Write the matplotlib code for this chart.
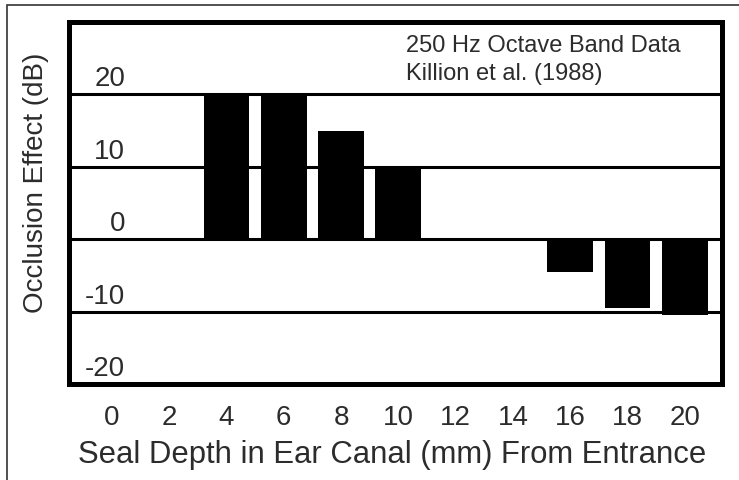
import matplotlib.pyplot as plt
from matplotlib.patches import Rectangle

# 250 Hz octave band occlusion effect vs. seal depth
depth_mm = [4, 6, 8, 10, 16, 18, 20]
occlusion_db = [20, 20, 15, 10, -4.5, -9.5, -10.5]

x_ticks = [0, 2, 4, 6, 8, 10, 12, 14, 16, 18, 20]
y_ticks = [20, 10, 0, -10, -20]
y_tick_labels = ["20", "10", "0", "-10", "-20"]

TEXT = "#2c2c2c"
W, H = 739, 480

plt.rcParams["font.family"] = ["Liberation Sans", "DejaVu Sans"]

fig = plt.figure(figsize=(W / 100, H / 100), dpi=100)
ax = fig.add_axes([69 / W, 96 / H, (722 - 69) / W, (384 - 22) / H])

ax.bar(depth_mm, occlusion_db, width=1.6, color="black", zorder=3)
ax.set_xlim(-1.5, 21.3)
ax.set_ylim(-20, 30)

# horizontal rules at every 10 dB, labels sit just above each rule
ax.set_yticks(y_ticks)
ax.yaxis.grid(True, color="black", linewidth=2.2)
ax.set_axisbelow(True)
ax.tick_params(axis="y", left=False, labelleft=False)
for val, lab in zip(y_ticks, y_tick_labels):
    ax.annotate(lab, xy=(0, val), xycoords=("axes fraction", "data"),
                xytext=(56, 8), textcoords="offset pixels",
                ha="right", va="baseline", fontsize=20, color=TEXT)

ax.set_xticks(x_ticks)
ax.tick_params(axis="x", length=0, pad=15, labelsize=20, labelcolor=TEXT)

for spine in ax.spines.values():
    spine.set_linewidth(3.6)

fig.text(392 / W, 1 - 463 / H, "Seal Depth in Ear Canal (mm) From Entrance",
         ha="center", va="baseline", fontsize=22.3, color=TEXT)
fig.text(43 / W, 1 - 183 / H, "Occlusion Effect (dB)", rotation=90,
         rotation_mode="anchor", ha="center", va="baseline",
         fontsize=20, color=TEXT)

fig.text(406 / W, 1 - 52 / H, "250 Hz Octave Band Data",
         ha="left", va="baseline", fontsize=17, color=TEXT)
fig.text(406 / W, 1 - 80 / H, "Killion et al. (1988)",
         ha="left", va="baseline", fontsize=17, color=TEXT)

# thin frame around the whole figure (left and top edges show)
fig.patches.append(Rectangle((7 / W, -0.1), 1.1, 1.1 - 5 / H,
                             transform=fig.transFigure, fill=False,
                             linewidth=1.2, edgecolor="#333333"))

fig.savefig("out.png", dpi=100)
